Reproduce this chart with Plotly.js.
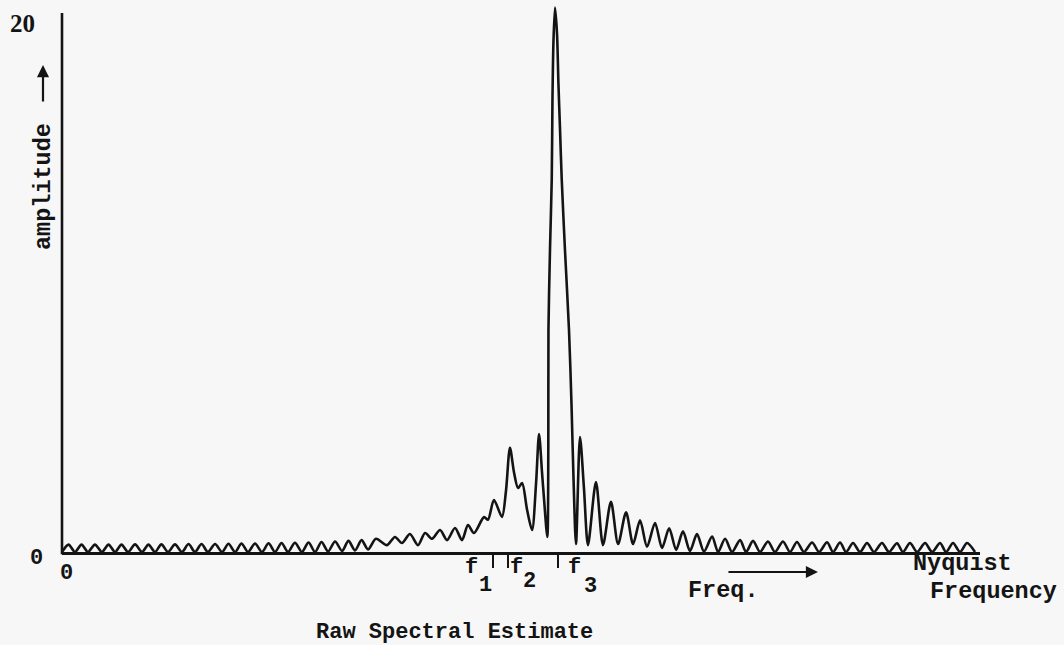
<!DOCTYPE html>
<html>
<head>
<meta charset="utf-8">
<script src="https://cdn.plot.ly/plotly-3.0.1.min.js"></script>
<style>html,body{margin:0;padding:0;background:#f7f7f7;}#chart{width:1064px;height:645px;}</style>
</head>
<body>
<div id="chart"></div>
<script>
// Frequency (bins, Nyquist = 64) and amplitude read from the raw spectral estimate
const freq = [
  0, 0.46, 0.91, 1.37, 1.82, 2.31, 2.80, 3.26, 3.72, 4.17, 4.63, 5.12, 5.61, 6.06, 6.52, 6.97,
  7.43, 7.92, 8.41, 8.87, 9.32, 9.78, 10.23, 10.73, 11.22, 11.67, 12.13, 12.58, 13.04, 13.53,
  14.02, 14.48, 14.93, 15.39, 15.84, 16.33, 16.82, 17.28, 17.74, 18.19, 18.65, 19.14, 19.63,
  20.08, 20.54, 21.0, 21.45,
  22.01, 22.78, 23.34, 23.83, 24.39, 24.96, 25.45, 25.94, 26.50, 26.99, 27.55, 28.04, 28.46,
  28.88, 29.58, 29.86, 30.28, 30.84, 31.12, 31.40, 31.69, 31.97, 32.25, 32.60, 32.95, 33.23,
  33.44, 33.65, 33.79, 34.02, 34.09, 34.10, 34.21, 34.33, 34.38, 34.45, 34.56, 34.70, 34.80,
  34.91, 35.03, 35.26, 35.54, 35.72, 35.86, 36.03, 36.31, 36.59, 36.87, 37.43, 37.92, 38.48,
  38.98, 39.54, 40.03, 40.52, 41.01, 41.57, 42.06, 42.56, 43.05, 43.53, 44.02, 44.51, 45.00,
  45.57, 45.99, 46.48, 46.97, 47.53, 47.95, 48.44, 48.93, 49.49, 49.98, 50.54, 51.03, 51.52,
  52.01, 52.58, 53.07, 53.63, 54.05, 54.54, 54.96, 55.45, 55.94, 56.43, 56.92, 57.48, 57.97,
  58.53, 58.95, 59.44, 59.94, 60.50, 60.99, 61.55, 61.97, 62.46, 62.95, 63.44, 64.0
];
const amplitude = [
  0, 0.28, 0, 0.28, 0, 0.28, 0, 0.28, 0, 0.28, 0, 0.29, 0, 0.28, 0, 0.29,
  0, 0.29, 0, 0.30, 0, 0.30, 0, 0.30, 0, 0.31, 0, 0.32, 0, 0.32,
  0, 0.33, 0, 0.34, 0, 0.35, 0, 0.36, 0, 0.38, 0.02, 0.40, 0.04,
  0.42, 0.06, 0.45, 0.10,
  0.50, 0.26, 0.57, 0.34, 0.68, 0.26, 0.72, 0.50, 0.83, 0.45, 0.91, 0.45, 1.02,
  0.72, 1.32, 1.22, 1.97, 1.33, 2.30, 3.94, 3.00, 2.42, 2.61, 1.60, 0.83, 2.60,
  4.46, 3.00, 2.00, 0.57, 4.00, 8.40, 11.5, 14.1, 17.1, 19.3, 20.6, 19.6, 17.7,
  16.0, 14.1, 11.4, 8.40, 5.50, 2.70, 0.30, 4.35, 2.40, 0.26, 2.65, 0.26, 1.90,
  0.30, 1.50, 0.30, 1.20, 0.20, 1.10, 0.15, 0.90, 0.08, 0.78, 0.04, 0.68, 0.02,
  0.58, 0, 0.50, 0, 0.45, 0, 0.42, 0, 0.40, 0, 0.40, 0, 0.38,
  0, 0.36, 0, 0.37, 0, 0.36, 0, 0.34, 0, 0.34, 0, 0.34, 0,
  0.33, 0, 0.34, 0, 0.34, 0, 0.34, 0, 0.34, 0, 0.34, 0
];
// marked frequencies f1, f2, f3
const markFreqs = [30.21, 31.23, 34.77];
const markNames = ["f", "f", "f"];
const markSubs = ["1", "2", "3"];
const yTickLabels = ["20", "0"];

const ink = "#141414";
const mono = {family: "Liberation Mono", size: 22, color: ink, weight: "bold"};
const monoL = {family: "Liberation Mono", size: 23.5, color: ink, weight: "bold"};

const trace = {
  x: freq, y: amplitude, type: "scatter", mode: "lines",
  line: {color: ink, width: 2.6, shape: "spline", smoothing: 0.8},
  hoverinfo: "skip"
};

const ann = [];
// y tick labels
ann.push({xref: "paper", yref: "paper", x: -0.0425, y: 0.9583, text: yTickLabels[0], showarrow: false,
  xanchor: "center", yanchor: "middle", font: {family: "Liberation Serif", size: 25, color: ink, weight: "bold"}});
ann.push({xref: "paper", yref: "paper", x: -0.0283, y: -0.0109, text: yTickLabels[1], showarrow: false,
  xanchor: "center", yanchor: "middle", font: mono});
// x origin label
ann.push({xref: "paper", yref: "paper", x: 0.00436, y: -0.0399, text: "0", showarrow: false,
  xanchor: "center", yanchor: "middle", font: mono});
// amplitude label + arrow
ann.push({xref: "paper", yref: "paper", x: -0.0207, y: 0.6642, text: "amplitude", textangle: -90, showarrow: false,
  xanchor: "center", yanchor: "middle", font: monoL});
ann.push({xref: "paper", yref: "paper", x: -0.0207, y: 0.8838, text: "", showarrow: true, ax: 0, ay: 38,
  arrowhead: 2, arrowsize: 1.1, arrowwidth: 2.2, arrowcolor: ink});
// f labels
const fPos = [[0.4466, -0.029, 0.4608, -0.0599], [0.4956, -0.029, 0.5098, -0.0544], [0.5588, -0.029, 0.5752, -0.0635]];
for (let i = 0; i < markNames.length; i++) {
  ann.push({xref: "paper", yref: "paper", x: fPos[i][0], y: fPos[i][1], text: markNames[i], showarrow: false,
    xanchor: "center", yanchor: "middle", font: mono});
  ann.push({xref: "paper", yref: "paper", x: fPos[i][2], y: fPos[i][3], text: markSubs[i], showarrow: false,
    xanchor: "center", yanchor: "middle", font: mono});
}
// Freq. with arrow
ann.push({xref: "paper", yref: "paper", x: 0.7211, y: -0.069, text: "Freq.", showarrow: false,
  xanchor: "center", yanchor: "middle", font: monoL});
ann.push({xref: "paper", yref: "paper", x: 0.8235, y: -0.0363, text: "", showarrow: true, ax: -91, ay: 0,
  arrowhead: 2, arrowsize: 1.1, arrowwidth: 2.2, arrowcolor: ink});
// Nyquist Frequency
ann.push({xref: "paper", yref: "paper", x: 0.9804, y: -0.0215, text: "Nyquist", showarrow: false,
  xanchor: "center", yanchor: "middle", font: monoL});
ann.push({xref: "paper", yref: "paper", x: 1.0142, y: -0.071, text: "Frequency", showarrow: false,
  xanchor: "center", yanchor: "middle", font: monoL});
// caption
ann.push({xref: "paper", yref: "paper", x: 0.4281, y: -0.1452, text: "Raw Spectral Estimate", showarrow: false,
  xanchor: "center", yanchor: "middle", font: mono});

const layout = {
  width: 1064, height: 645,
  margin: {l: 62, r: 84, t: 1, b: 93, autoexpand: false},
  paper_bgcolor: "#f7f7f7", plot_bgcolor: "#f7f7f7",
  showlegend: false,
  xaxis: {range: [0, 64.35], showgrid: false, zeroline: false, showline: true, linecolor: ink, linewidth: 2.6,
    tickmode: "array", tickvals: markFreqs, ticks: "outside", ticklen: 13, tickwidth: 2, tickcolor: ink,
    showticklabels: false, fixedrange: true},
  yaxis: {range: [0, 20.85], showgrid: false, zeroline: false, showline: false, showticklabels: false, ticks: "", fixedrange: true},
  shapes: [
    {type: "line", xref: "paper", yref: "paper", x0: 0, x1: 0, y0: -0.004, y1: 0.978, line: {color: ink, width: 2.6}}
  ],
  annotations: ann
};

Plotly.newPlot("chart", [trace], layout, {displayModeBar: false, staticPlot: true});
</script>
</body>
</html>
